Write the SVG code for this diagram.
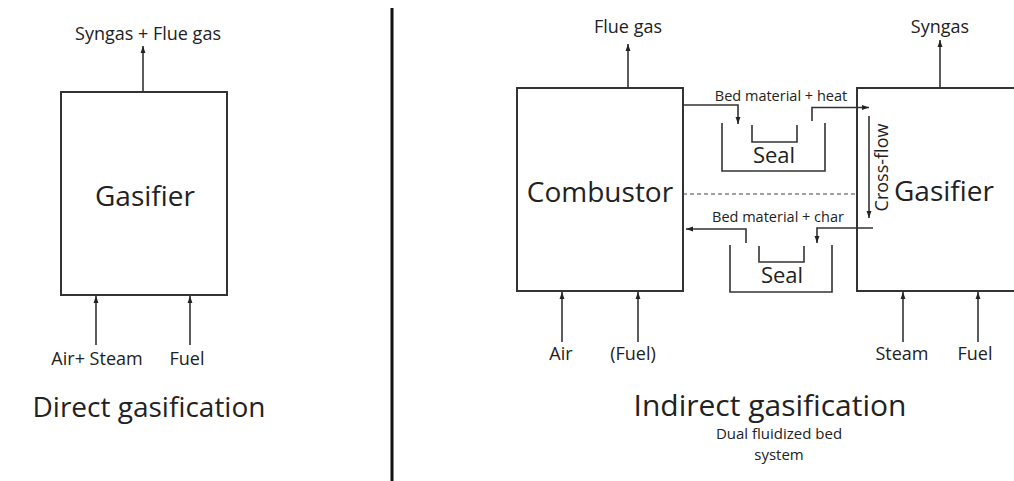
<svg xmlns="http://www.w3.org/2000/svg" width="1014" height="481" viewBox="0 0 1014 481">
<defs>
<marker id="ah" viewBox="0 0 10 10" refX="10" refY="5" markerWidth="7" markerHeight="7" markerUnits="userSpaceOnUse" orient="auto">
<path d="M0,1.5 L10,5 L0,8.5 Z" fill="#222"/>
</marker>
</defs>
<style>
text{font-family:"Open Sans","Noto Sans","DejaVu Sans",sans-serif;fill:#222;text-anchor:middle}
.box{fill:none;stroke:#333;stroke-width:2}
.ln{fill:none;stroke:#333;stroke-width:1.6}
.ar{fill:none;stroke:#333;stroke-width:1.6;marker-end:url(#ah)}
.dash{fill:none;stroke:#444;stroke-width:1.2;stroke-dasharray:4 3}
.big{font-size:28px}
.mid{font-size:18px}
.sm{font-size:14.5px}
.seal{font-size:22px}
.title{font-size:28px}
.title2{font-size:30px}
.sub{font-size:15px}
</style>
<rect width="1014" height="481" fill="#fff"/>
<line x1="392" y1="8" x2="392" y2="481" stroke="#111" stroke-width="3"/>

<g id="direct-gasifier">
<rect class="box" x="61" y="92" width="166" height="203"/>
<text class="big" x="145" y="206">Gasifier</text>
</g>
<g id="combustor">
<rect class="box" x="517" y="88" width="166" height="203"/>
<text class="big" x="600" y="202">Combustor</text>
</g>
<g id="indirect-gasifier">
<rect class="box" x="857" y="88" width="170" height="203"/>
<text class="big" x="944" y="201">Gasifier</text>
</g>
<g id="seal-top">
<path class="ln" d="M722,123 V171 H825 V123"/>
<path class="ln" d="M752,125 V142 H797 V125"/>
<text class="seal" x="774" y="163">Seal</text>
</g>
<g id="seal-bottom">
<path class="ln" d="M730,245 V292 H832 V245"/>
<path class="ln" d="M759,246 V262 H804 V246"/>
<text class="seal" x="782" y="283">Seal</text>
</g>

<g id="connectors">
<line class="ar" x1="143" y1="92" x2="143" y2="46"/>
<line class="ar" x1="96" y1="345" x2="96" y2="296"/>
<line class="ar" x1="190" y1="345" x2="190" y2="296"/>
<line class="ar" x1="628" y1="88" x2="628" y2="44"/>
<line class="ar" x1="940" y1="88" x2="940" y2="40"/>
<line class="ar" x1="562" y1="342" x2="562" y2="292"/>
<line class="ar" x1="638" y1="342" x2="638" y2="292"/>
<line class="ar" x1="903" y1="342" x2="903" y2="292"/>
<line class="ar" x1="978" y1="342" x2="978" y2="292"/>
<path class="ar" d="M683,105 H738 V124"/>
<path class="ar" d="M812,121 V107.5 H869"/>
<path class="ar" d="M869,116 V218"/>
<path class="ar" d="M873,228 H817 V243"/>
<path class="ar" d="M746,243 V229 H686"/>
<path class="dash" d="M683,194 H857"/>
</g>

<g id="labels">
<text class="mid" x="148" y="40">Syngas + Flue gas</text>
<text class="mid" x="628" y="33">Flue gas</text>
<text class="mid" x="940" y="33">Syngas</text>
<text class="sm" x="781" y="101">Bed material + heat</text>
<text class="sm" x="778" y="222">Bed material + char</text>
<text class="mid" transform="translate(888,167.5) rotate(-90)">Cross-flow</text>
<text class="mid" x="97" y="365">Air+ Steam</text>
<text class="mid" x="187" y="365">Fuel</text>
<text class="mid" x="561" y="360">Air</text>
<text class="mid" x="633" y="360">(Fuel)</text>
<text class="mid" x="902" y="360">Steam</text>
<text class="mid" x="975" y="360">Fuel</text>
<text class="title" x="149" y="417">Direct gasification</text>
<text class="title2" x="770" y="416">Indirect gasification</text>
<text class="sub" x="779" y="439">Dual fluidized bed</text>
<text class="sub" x="779" y="460">system</text>
</g>
</svg>
